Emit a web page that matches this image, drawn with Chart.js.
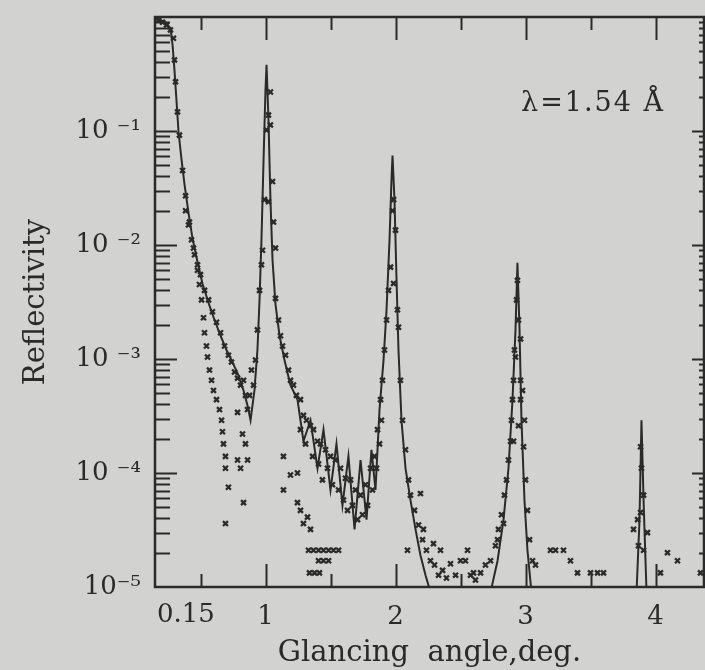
<!DOCTYPE html>
<html><head><meta charset="utf-8">
<script src="https://cdn.jsdelivr.net/npm/chart.js@4/dist/chart.umd.min.js"></script>
<style>html,body{margin:0;padding:0;background:#d2d2d0;}#wrap{width:705px;height:670px;position:relative;overflow:hidden}</style>
</head><body><div id="wrap"><canvas id="c" width="705" height="670"></canvas></div>
<script>
// Calculated reflectivity curve: [glancing angle (deg), reflectivity]
const theory = [[0.154,0.96],[0.192,0.94],[0.231,0.90],[0.269,0.80],[0.285,0.57],[0.300,0.34],[0.315,0.187],[0.331,0.098],[0.354,0.056],[0.377,0.034],
[0.408,0.019],[0.438,0.0115],[0.477,0.0071],[0.515,0.0046],[0.562,0.0031],[0.608,0.0022],[0.654,0.0016],[0.700,0.0012],[0.746,0.00094],[0.792,0.00072],
[0.831,0.00053],[0.862,0.00039],[0.885,0.00029],[0.915,0.00053],[0.938,0.0012],[0.954,0.0033],[0.969,0.0111],[0.985,0.056],[1.000,0.23],[1.008,0.38],
[1.023,0.125],[1.038,0.025],[1.054,0.0074],[1.077,0.0030],[1.108,0.0016],[1.146,0.00098],[1.192,0.00059],[1.246,0.00044],[1.292,0.00019],[1.346,0.00029],
[1.400,0.00011],[1.446,0.00024],[1.500,7.1e-5],[1.546,1.8e-4],[1.592,5.2e-5],[1.638,1.4e-4],[1.685,3.2e-5],[1.731,1.3e-4],[1.777,3.9e-5],[1.815,1.6e-4],
[1.846,7.1e-5],[1.877,3.6e-4],[1.908,9.8e-4],[1.931,0.0027],[1.954,0.0111],[1.969,0.037],[1.977,0.061],[1.992,0.025],[2.008,0.0049],[2.023,0.0012],
[2.046,0.00029],[2.077,1.1e-4],[2.115,5.8e-5],[2.154,3.2e-5],[2.192,1.9e-5],[2.231,1.27e-5],[2.269,9e-6],[2.500,8e-6],[2.731,9e-6],[2.785,1.7e-5],
[2.831,3.9e-5],[2.869,1.1e-4],[2.900,4.4e-4],[2.923,0.0018],[2.938,0.0070],[2.954,0.0018],[2.969,2.9e-4],[2.992,5.8e-5],[3.015,2.1e-5],[3.046,9e-6],
[3.420,8e-6],[3.854,9e-6],[3.877,3.9e-5],[3.892,2.9e-4],[3.908,5.8e-5],[3.931,9e-6],[4.346,8e-6]];

// Measured points following the curve
const measured = [[0.177,0.94],[0.208,0.90],[0.238,0.85],[0.269,0.77],[0.292,0.65],[0.300,0.42],[0.308,0.27],[0.323,0.147],[0.338,0.092],[0.362,0.045],
[0.385,0.027],[0.415,0.0159],[0.446,0.0094],[0.477,0.0067],[0.500,0.0055],[0.531,0.0040],[0.562,0.0033],[0.592,0.0026],[0.623,0.0021],[0.654,0.0017],
[0.685,0.0013],[0.715,0.00108],[0.738,0.00094],[0.762,0.00077],[0.785,0.00068],[0.808,0.00059],[0.831,0.00065],[0.846,0.00048],[0.862,0.00036],[0.877,0.00048],
[0.892,0.00080],[0.908,0.00059],[0.923,0.00098],[0.938,0.0018],[0.954,0.0040],[0.969,0.0067],[0.977,0.0090],[0.992,0.025],[1.008,0.102],[1.023,0.138],
[1.038,0.22],[1.038,0.113],[1.054,0.036],[1.023,0.024],[1.062,0.0159],[1.077,0.0094],[1.077,0.0034],[1.100,0.0022],[1.115,0.0016],[1.131,0.0013],
[1.154,0.00108],[1.177,0.00080],[1.192,0.00065],[1.215,0.00059],[1.238,0.00048],[1.269,0.00044],[1.269,0.00024],[1.292,0.00032],[1.308,0.00018],[1.315,0.00029],
[1.346,0.00026],[1.362,0.00014],[1.369,0.00024],[1.400,0.00019],[1.408,0.00012],[1.423,0.00018],[1.438,8.7e-5],[1.462,0.00016],[1.477,0.00011],[1.500,0.00014],
[1.515,7.9e-5],[1.538,0.00013],[1.562,7.1e-5],[1.577,0.00011],[1.600,5.8e-5],[1.615,9.0e-5],[1.631,4.7e-5],[1.654,8.7e-5],[1.669,5.2e-5],[1.692,7.1e-5],
[1.708,3.9e-5],[1.731,6.4e-5],[1.746,4.3e-5],[1.769,7.9e-5],[1.785,5.2e-5],[1.808,0.00011],[1.823,7.1e-5],[1.838,0.00014],[1.854,0.00011],[1.862,0.00024],
[1.877,0.00018],[1.885,0.00044],[1.892,0.00029],[1.900,0.00065],[1.915,0.0012],[1.931,0.0022],[1.946,0.0040],[1.962,0.0064],[1.977,0.020],[1.985,0.025],
[2.000,0.0135],[1.985,0.0046],[2.015,0.0027],[2.023,0.0019],[2.038,0.00065],[2.054,0.00029],[2.077,0.00016],[2.092,2.1e-5],[2.100,8.7e-5],[2.115,6.4e-5],
[2.146,4.7e-5],[2.177,3.5e-5],[2.192,6.6e-5],[2.208,2.6e-5],[2.215,3.2e-5],[2.238,2.1e-5],[2.269,1.7e-5],[2.292,2.4e-5],[2.300,1.56e-5],[2.331,1.27e-5],
[2.346,2.1e-5],[2.362,1.4e-5],[2.392,1.2e-5],[2.423,1.6e-5],[2.462,1.27e-5],[2.500,1.7e-5],[2.538,1.7e-5],[2.554,2.1e-5],[2.577,1.27e-5],[2.600,1.33e-5],
[2.615,1.15e-5],[2.654,1.33e-5],[2.692,1.56e-5],[2.731,1.7e-5],[2.769,2.3e-5],[2.785,2.6e-5],[2.792,3.2e-5],[2.815,4.3e-5],[2.831,3.6e-5],[2.838,6.4e-5],
[2.854,8.7e-5],[2.869,0.00013],[2.885,0.00019],[2.892,0.00029],[2.900,0.00044],[2.908,0.00065],[2.915,0.0012],[2.923,0.00104],[2.931,0.0033],[2.938,0.0049],
[2.946,0.0022],[2.962,0.0015],[2.962,0.00065],[2.962,0.00044],[2.946,0.00026],[2.908,0.00019],[2.977,0.00053],[2.985,0.00017],[2.992,0.00029],[3.000,8.7e-5],
[3.015,4.7e-5],[3.031,2.6e-5],[3.054,1.7e-5],[3.077,1.56e-5],[3.192,2.1e-5],[3.231,2.1e-5],[3.292,2.1e-5],[3.346,1.7e-5],[3.400,1.33e-5],[3.500,1.33e-5],
[3.554,1.33e-5],[3.600,1.33e-5],[3.831,3.2e-5],[3.862,3.9e-5],[3.885,0.00017],[3.892,0.00011],[3.908,6.4e-5],[3.885,4.5e-5],[3.938,3.0e-5],[3.908,2.1e-5],
[3.869,2.3e-5],[4.038,1.33e-5],[4.092,2.0e-5],[4.169,1.7e-5],[4.346,1.33e-5]];

// Measured points on the lower branch
const measuredLow = [[0.385,0.020],[0.408,0.0150],[0.431,0.0111],[0.454,0.0082],[0.477,0.0060],[0.492,0.0045],[0.508,0.0033],[0.523,0.0023],[0.531,0.0017],[0.546,0.0013],
[0.554,0.00104],[0.569,0.00080],[0.585,0.00065],[0.600,0.00053],[0.623,0.00044],[0.646,0.00036],[0.662,0.00029],[0.669,0.00023],[0.677,0.00018],[0.692,0.00014],
[0.692,0.00011],[0.715,7.5e-5],[0.692,3.6e-5],[0.785,0.00034],[0.823,0.00022],[0.785,0.00013],[0.808,0.00011],[0.846,0.00018],[0.862,0.00013],[0.831,5.5e-5],
[1.138,0.00014],[1.138,7.1e-5],[1.192,9.6e-5],[1.246,1.0e-4],[1.246,5.5e-5],[1.269,4.7e-5],[1.292,3.6e-5],[1.323,4.1e-5],[1.346,3.2e-5],[1.331,2.1e-5],
[1.369,2.1e-5],[1.408,2.1e-5],[1.446,2.1e-5],[1.485,2.1e-5],[1.523,2.1e-5],[1.562,2.1e-5],[1.408,1.7e-5],[1.446,1.7e-5],[1.485,1.7e-5],[1.338,1.33e-5],
[1.377,1.33e-5],[1.415,1.33e-5]];

const xTickValues = [0.5,1,1.5,2,2.5,3,3.5,4];
const xTickLabels = ["","1","","2","","3","","4"];
const xStartLabel = "0.15";
const yTickValues = [1e-5,1e-4,1e-3,1e-2,1e-1,1];
const yTickLabels = ["10\u207B\u2075","10 \u207B\u2074","10 \u207B\u00B3","10 \u207B\u00B2","10 \u207B\u00B9",""];
const annotation = "\u03BB=1.54 \u00C5";

const INK = '#2a2a2a';
const PAPER = '#d2d2d0';
const FONT = '"DejaVu Serif", serif';

const toXY = arr => arr.map(p => ({x: p[0], y: p[1]}));

const framePlugin = {
  id: 'frame',
  beforeDraw(chart) {
    const ctx = chart.ctx;
    ctx.save(); ctx.fillStyle = PAPER; ctx.fillRect(0, 0, chart.width, chart.height); ctx.restore();
  },
  afterDraw(chart) {
    const {ctx, chartArea: a, scales: {x, y}} = chart;
    ctx.save();
    ctx.strokeStyle = INK; ctx.lineCap = 'butt';
    ctx.lineWidth = 2.5;
    ctx.strokeRect(a.left, a.top, a.right - a.left, a.bottom - a.top);
    ctx.lineWidth = 2;
    ctx.beginPath();
    for (let e = -5; e <= -1; e++) {
      for (let m = 1; m <= 9; m++) {
        const v = m * Math.pow(10, e);
        const py = Math.round(y.getPixelForValue(v)) + 0.5;
        const major = m === 1;
        const lenL = major ? 22 : 15, lenR = major ? 12 : 5;
        if (!(major && e === -5)) {
          ctx.moveTo(a.left, py); ctx.lineTo(a.left + lenL, py);
          ctx.moveTo(a.right, py); ctx.lineTo(a.right - lenR, py);
        }
      }
    }
    xTickValues.forEach(v => {
      const px = Math.round(x.getPixelForValue(v)) + 0.5;
      const len = Number.isInteger(v) ? 23 : 13;
      ctx.moveTo(px, a.bottom); ctx.lineTo(px, a.bottom - len);
      ctx.moveTo(px, a.top); ctx.lineTo(px, a.top + len);
    });
    ctx.stroke();
    ctx.fillStyle = INK;
    ctx.font = '26px ' + FONT;
    ctx.textAlign = 'left'; ctx.textBaseline = 'top';
    ctx.fillText(xStartLabel, x.getPixelForValue(x.min) + 2, a.bottom + 15);
    ctx.font = '27px ' + FONT;
    if ('letterSpacing' in ctx) ctx.letterSpacing = '2px';
    ctx.textAlign = 'right'; ctx.textBaseline = 'alphabetic';
    ctx.fillText(annotation, a.right - 39, a.top + 94);
    ctx.restore();
  }
};

new Chart(document.getElementById('c'), {
  type: 'scatter',
  data: {
    datasets: [
      {label: 'calculated', data: toXY(theory), showLine: true, borderColor: INK, borderWidth: 2, pointRadius: 0, tension: 0, fill: false},
      {label: 'measured', data: toXY(measured), showLine: false, pointStyle: 'crossRot', pointRadius: 3.5, borderColor: INK, backgroundColor: INK, borderWidth: 2.3},
      {label: 'measured (lower)', data: toXY(measuredLow), showLine: false, pointStyle: 'crossRot', pointRadius: 3.5, borderColor: INK, backgroundColor: INK, borderWidth: 2.3}
    ]
  },
  options: {
    responsive: false, animation: false, devicePixelRatio: 1,
    layout: {autoPadding: false, padding: {top: 17, right: 1, left: 0, bottom: 0}},
    plugins: {legend: {display: false}, tooltip: {enabled: false}},
    scales: {
      x: {
        type: 'linear', min: 0.15, max: 4.373,
        afterBuildTicks: s => { s.ticks = xTickValues.map(v => ({value: v})); },
        afterFit: s => { s.height = 83; s.paddingLeft = 0; s.paddingRight = 0; },
        grid: {display: false, drawTicks: false}, border: {display: false},
        ticks: {autoSkip: false, maxRotation: 0, padding: 15, color: INK, font: {family: FONT, size: 26},
          callback: v => { const i = xTickValues.indexOf(v); return i >= 0 ? xTickLabels[i] : ''; }},
        title: {display: true, text: 'Glancing  angle,deg.', color: INK, font: {family: FONT, size: 29, lineHeight: 1.0}, padding: {top: 0, bottom: 2}}
      },
      y: {
        type: 'logarithmic', min: 1e-5, max: 1,
        afterBuildTicks: s => { s.ticks = yTickValues.map(v => ({value: v})); },
        afterFit: s => { s.width = 155; s.paddingTop = 0; s.paddingBottom = 0; },
        grid: {display: false, drawTicks: false}, border: {display: false},
        ticks: {autoSkip: false, padding: 14, color: INK, font: {family: FONT, size: 26},
          callback: v => { const i = yTickValues.findIndex(t => Math.abs(t - v) / t < 1e-6); return i >= 0 ? yTickLabels[i] : ''; }},
        title: {display: true, text: 'Reflectivity', color: INK, font: {family: FONT, size: 29, lineHeight: 1.0}, padding: {top: 22, bottom: 0}}
      }
    }
  },
  plugins: [framePlugin]
});
</script></body></html>
